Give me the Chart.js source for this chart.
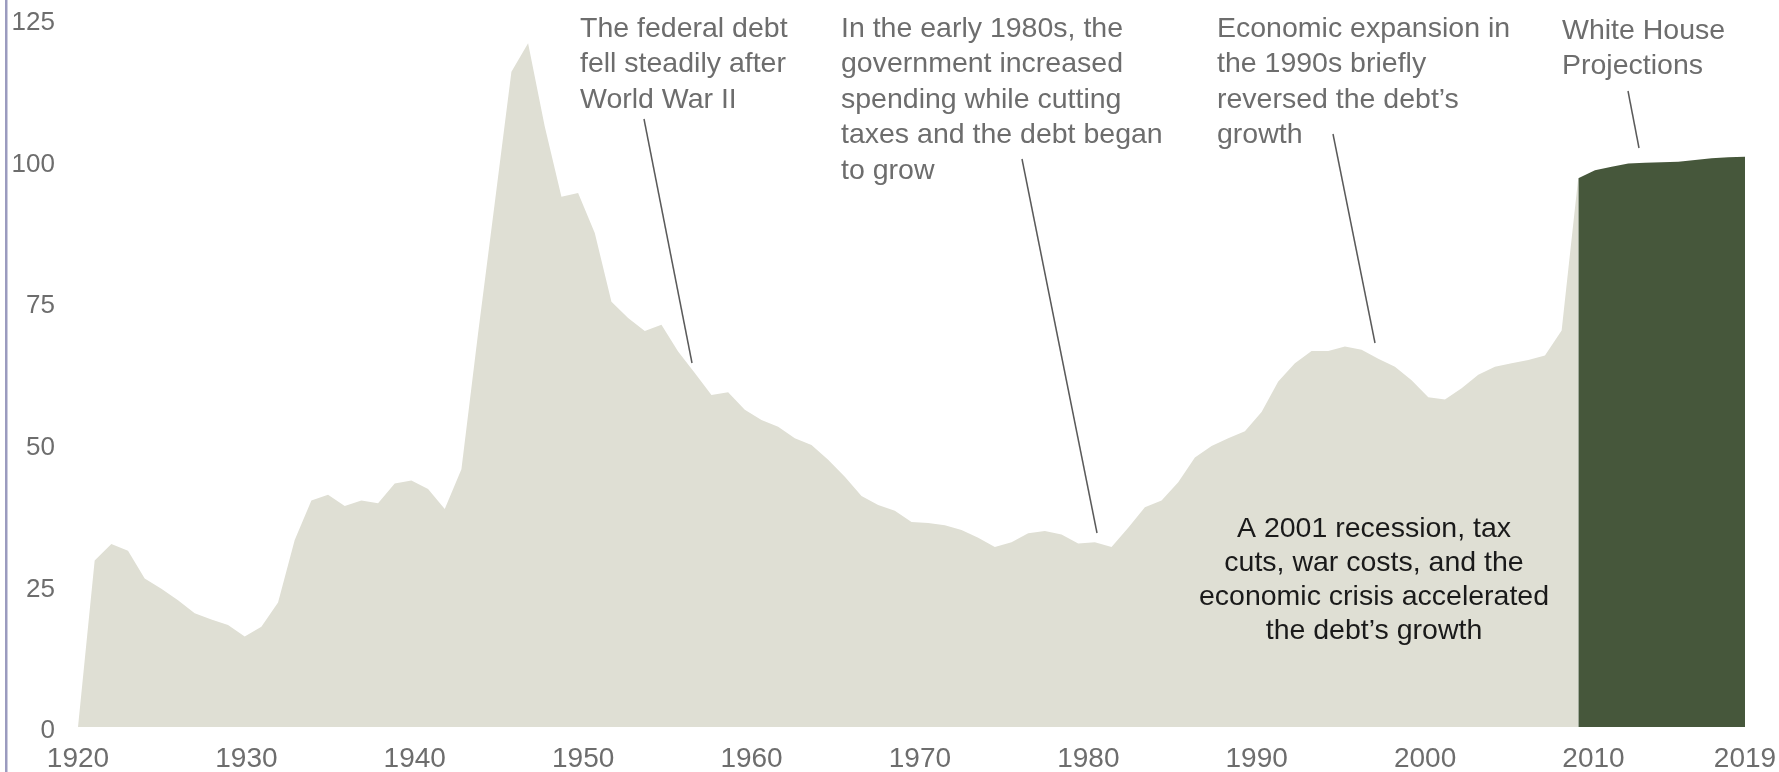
<!DOCTYPE html>
<html>
<head>
<meta charset="utf-8">
<script src="https://cdn.jsdelivr.net/npm/chart.js@4.4.1/dist/chart.umd.min.js"></script>
<style>
  html, body { margin: 0; padding: 0; background: #ffffff; }
  canvas { display: block; }
</style>
</head>
<body>
<canvas id="chart" width="1779" height="772"></canvas>
<script>
// ---- Data (gross federal debt, % of GDP) ----
const histYears = [
  1919, 1920, 1921, 1922, 1923, 1924, 1925, 1926, 1927, 1928, 1929,
  1930, 1931, 1932, 1933, 1934, 1935, 1936, 1937, 1938, 1939,
  1940, 1941, 1942, 1943, 1944, 1945, 1946, 1947, 1948, 1949,
  1950, 1951, 1952, 1953, 1954, 1955, 1956, 1957, 1958, 1959,
  1960, 1961, 1962, 1963, 1964, 1965, 1966, 1967, 1968, 1969,
  1970, 1971, 1972, 1973, 1974, 1975, 1976, 1977, 1978, 1979,
  1980, 1981, 1982, 1983, 1984, 1985, 1986, 1987, 1988, 1989,
  1990, 1991, 1992, 1993, 1994, 1995, 1996, 1997, 1998, 1999,
  2000, 2001, 2002, 2003, 2004, 2005, 2006, 2007, 2008, 2009
];
const histDebt = [
  0, 29.4, 32.3, 31.1, 26.2, 24.4, 22.4, 20.1, 19.0, 18.0, 16.0,
  17.7, 22.0, 33.0, 40.0, 41.0, 39.0, 40.0, 39.5, 43.0, 43.5,
  42.0, 38.5, 45.5, 69.5, 92.5, 115.7, 120.7, 106.0, 93.6, 94.3,
  87.2, 75.1, 72.2, 69.9, 71.0, 66.3, 62.5, 58.6, 59.1, 56.0,
  54.2, 53.0, 51.0, 49.8, 47.2, 44.2, 40.8, 39.2, 38.2, 36.2,
  36.0, 35.6, 34.8, 33.4, 31.8, 32.6, 34.2, 34.6, 34.0, 32.4,
  32.6, 31.8, 35.2, 38.8, 40.0, 43.2, 47.6, 49.6, 51.0, 52.2,
  55.6, 61.0, 64.2, 66.4, 66.4, 67.2, 66.6, 65.0, 63.6, 61.2,
  58.2, 57.8, 59.8, 62.2, 63.6, 64.2, 64.8, 65.6, 70.0, 97.0
];
const projYears = [2009, 2010, 2011, 2012, 2013, 2014, 2015, 2016, 2017, 2018, 2019];
const projDebt  = [96.9, 98.3, 98.9, 99.5, 99.6, 99.7, 99.8, 100.1, 100.4, 100.6, 100.7];

const xTickLabels = ['1920', '1930', '1940', '1950', '1960', '1970', '1980', '1990', '2000', '2010', '2019'];
const yTickLabels = ['0', '25', '50', '75', '100', '125'];

// ---- Annotations (text + leader lines, in canvas pixels) ----
const notes = [
  { lines: ['The federal debt', 'fell steadily after', 'World War II'],
    x: 580, y: 29, align: 'left', color: '#6d6d6d', lh: 35.5, leader: [644, 119, 692, 363] },
  { lines: ['In the early 1980s, the', 'government increased', 'spending while cutting', 'taxes and the debt began', 'to grow'],
    x: 841, y: 29, align: 'left', color: '#6d6d6d', lh: 35.5, leader: [1022, 159, 1097, 533] },
  { lines: ['Economic expansion in', 'the 1990s briefly', 'reversed the debt\u2019s', 'growth'],
    x: 1217, y: 29, align: 'left', color: '#6d6d6d', lh: 35.5, leader: [1333, 134, 1375, 343] },
  { lines: ['White House', 'Projections'],
    x: 1562, y: 31, align: 'left', color: '#6d6d6d', lh: 35, leader: [1628, 91, 1639, 148] },
  { lines: ['A 2001 recession, tax', 'cuts, war costs, and the', 'economic crisis accelerated', 'the debt\u2019s growth'],
    x: 1374, y: 529, align: 'center', color: '#1a1a1a', lh: 34, leader: null }
];

const FONT = "'Liberation Sans', Arial, sans-serif";

const sideLinePlugin = {
  id: 'sideLine',
  beforeDraw(chart) {
    const ctx = chart.ctx;
    ctx.save();
    ctx.fillStyle = '#9b9bbf';
    ctx.fillRect(5, 0, 2.5, chart.height);
    ctx.restore();
  }
};

const notesPlugin = {
  id: 'notes',
  afterDraw(chart) {
    const ctx = chart.ctx;
    ctx.save();
    notes.forEach(n => {
      if (n.leader) {
        ctx.strokeStyle = '#5a5a5a';
        ctx.lineWidth = 1.5;
        ctx.beginPath();
        ctx.moveTo(n.leader[0], n.leader[1]);
        ctx.lineTo(n.leader[2], n.leader[3]);
        ctx.stroke();
      }
      ctx.fillStyle = n.color;
      ctx.font = '28.5px ' + FONT;
      ctx.textAlign = n.align;
      ctx.textBaseline = 'middle';
      n.lines.forEach((t, i) => ctx.fillText(t, n.x, n.y + i * n.lh));
    });
    ctx.restore();
  }
};

const histPoints = histYears.map((yr, i) => ({ x: yr, y: histDebt[i] }));
const projPoints = projYears.map((yr, i) => ({ x: yr, y: projDebt[i] }));
const xTickValues = xTickLabels.map(Number);
const yTickValues = yTickLabels.map(Number);

function noEdgePadding(scale) {
  scale.paddingLeft = 0;
  scale.paddingRight = 0;
  scale.paddingTop = 0;
  scale.paddingBottom = 0;
}

new Chart(document.getElementById('chart'), {
  type: 'line',
  data: {
    datasets: [
      {
        label: 'White House Projections',
        data: projPoints,
        xAxisID: 'x', yAxisID: 'y',
        backgroundColor: '#46573b',
        borderWidth: 0,
        borderColor: 'rgba(0,0,0,0)',
        pointRadius: 0,
        fill: 'origin',
        tension: 0,
        order: 0
      },
      {
        label: 'Federal debt',
        data: histPoints,
        xAxisID: 'x', yAxisID: 'y',
        backgroundColor: '#dfdfd4',
        borderWidth: 0,
        borderColor: 'rgba(0,0,0,0)',
        pointRadius: 0,
        fill: 'origin',
        tension: 0,
        order: 1
      }
    ]
  },
  options: {
    responsive: false,
    animation: false,
    devicePixelRatio: 1,
    layout: { padding: { top: 19, right: 34, left: 0, bottom: 0 } },
    plugins: {
      legend: { display: false },
      tooltip: { enabled: false },
      title: { display: false }
    },
    scales: {
      x: {
        type: 'linear',
        display: false,
        min: histYears[0],
        max: projYears[projYears.length - 1]
      },
      x2: {
        type: 'linear',
        position: 'bottom',
        min: xTickValues[0],
        max: xTickValues[xTickValues.length - 1],
        grid: { display: false, drawTicks: false },
        border: { display: false },
        afterBuildTicks(scale) { scale.ticks = xTickValues.map(v => ({ value: v })); },
        afterFit(scale) { scale.height = 45; noEdgePadding(scale); },
        ticks: {
          autoSkip: false,
          maxRotation: 0,
          padding: 15,
          color: '#6d6d6d',
          font: { family: FONT, size: 28 },
          callback: (v) => xTickLabels[xTickValues.indexOf(v)]
        }
      },
      y: {
        type: 'linear',
        position: 'left',
        min: 0,
        max: 125,
        grid: { display: false, drawTicks: false },
        border: { display: false },
        afterBuildTicks(scale) { scale.ticks = yTickValues.map(v => ({ value: v })); },
        afterFit(scale) { scale.width = 78; noEdgePadding(scale); },
        ticks: {
          padding: 23,
          labelOffset: 4,
          color: '#6d6d6d',
          font: { family: FONT, size: 26 },
          callback: (v) => yTickLabels[yTickValues.indexOf(v)]
        }
      }
    }
  },
  plugins: [sideLinePlugin, notesPlugin]
});
</script>
</body>
</html>
